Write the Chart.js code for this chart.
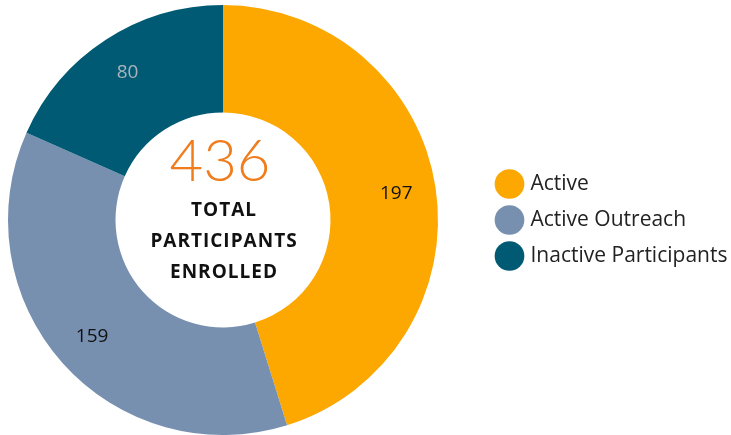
<!DOCTYPE html>
<html>
<head>
<meta charset="utf-8">
<script src="https://cdn.jsdelivr.net/npm/chart.js@4.4.1/dist/chart.umd.min.js"></script>
<style>
	html, body { margin: 0; padding: 0; background: #ffffff; }
	#wrap { position: relative; width: 731px; height: 435px; }
</style>
</head>
<body>
<div id="wrap"><canvas id="chart"></canvas></div>
<script>
const categories = [ 'Active', 'Active Outreach', 'Inactive Participants' ];
const values = [ 197, 159, 80 ];
const colors = [ '#fca800', '#7890b0', '#005a73' ];
const labelColors = [ '#111111', '#111111', '#a9b4bd' ];
const centerTitle = [ 'TOTAL', 'PARTICIPANTS', 'ENROLLED' ];

const FONT = '"Open Sans", Lato, sans-serif';
const LEGEND_W = 285; // room kept on the right for the legend
const LEGEND_SHIFT = 38; // legend sits a bit away from the ring

// draw the value on each slice
const sliceLabels = {
	id: 'sliceLabels',
	afterDatasetsDraw( chart ) {
		const { ctx } = chart;
		const meta = chart.getDatasetMeta( 0 );
		ctx.save();
		ctx.font = '19px ' + FONT;
		ctx.textAlign = 'center';
		ctx.textBaseline = 'middle';
		meta.data.forEach( ( arc, i ) => {
			const mid = ( arc.startAngle + arc.endAngle ) / 2;
			const r = arc.outerRadius * 0.815;
			ctx.fillStyle = labelColors[ i ];
			ctx.fillText( values[ i ], arc.x + Math.cos( mid ) * r, arc.y + Math.sin( mid ) * r );
		} );
		ctx.restore();
	},
};

// total in the hole
const centerText = {
	id: 'centerText',
	afterDraw( chart ) {
		const { ctx } = chart;
		const arc = chart.getDatasetMeta( 0 ).data[ 0 ];
		const total = values.reduce( ( a, b ) => a + b, 0 );
		ctx.save();
		ctx.textAlign = 'center';
		ctx.textBaseline = 'middle';
		ctx.fillStyle = '#f07c1b';
		ctx.font = '300 58px Lato, sans-serif';
		ctx.fillText( total, arc.x - 3, arc.y - 58 );
		ctx.fillStyle = '#111111';
		ctx.font = 'bold 19px ' + FONT;
		ctx.letterSpacing = '1px';
		centerTitle.forEach( ( line, i ) => {
			ctx.fillText( line, arc.x + 1, arc.y - 9 + i * 31 );
		} );
		ctx.restore();
	},
};

// fixed legend width so the ring stays on the left
const legendPlace = {
	id: 'legendPlace',
	beforeLayout( chart ) {
		const legend = chart.legend;
		if ( legend && ! legend._fixed ) {
			const fit = legend.fit;
			legend.fit = function () {
				fit.call( this );
				this.width = LEGEND_W;
			};
			legend._fixed = true;
		}
	},
	afterLayout( chart ) {
		chart.legend.left += LEGEND_SHIFT;
	},
};

new Chart( document.getElementById( 'chart' ), {
	type: 'doughnut',
	data: {
		labels: categories,
		datasets: [
			{
				data: values,
				backgroundColor: colors,
				borderWidth: 0,
			},
		],
	},
	options: {
		responsive: true,
		maintainAspectRatio: false,
		animation: false,
		cutout: '50%',
		layout: {
			padding: { top: 5, bottom: 0, left: 0, right: 0 },
		},
		plugins: {
			tooltip: { enabled: false },
			legend: {
				position: 'right',
				labels: {
					usePointStyle: true,
					pointStyle: 'circle',
					boxWidth: 22,
					boxHeight: 22,
					padding: 15,
					color: '#222222',
					font: { size: 21, family: FONT },
				},
			},
		},
	},
	plugins: [ sliceLabels, centerText, legendPlace ],
} );
</script>
</body>
</html>
